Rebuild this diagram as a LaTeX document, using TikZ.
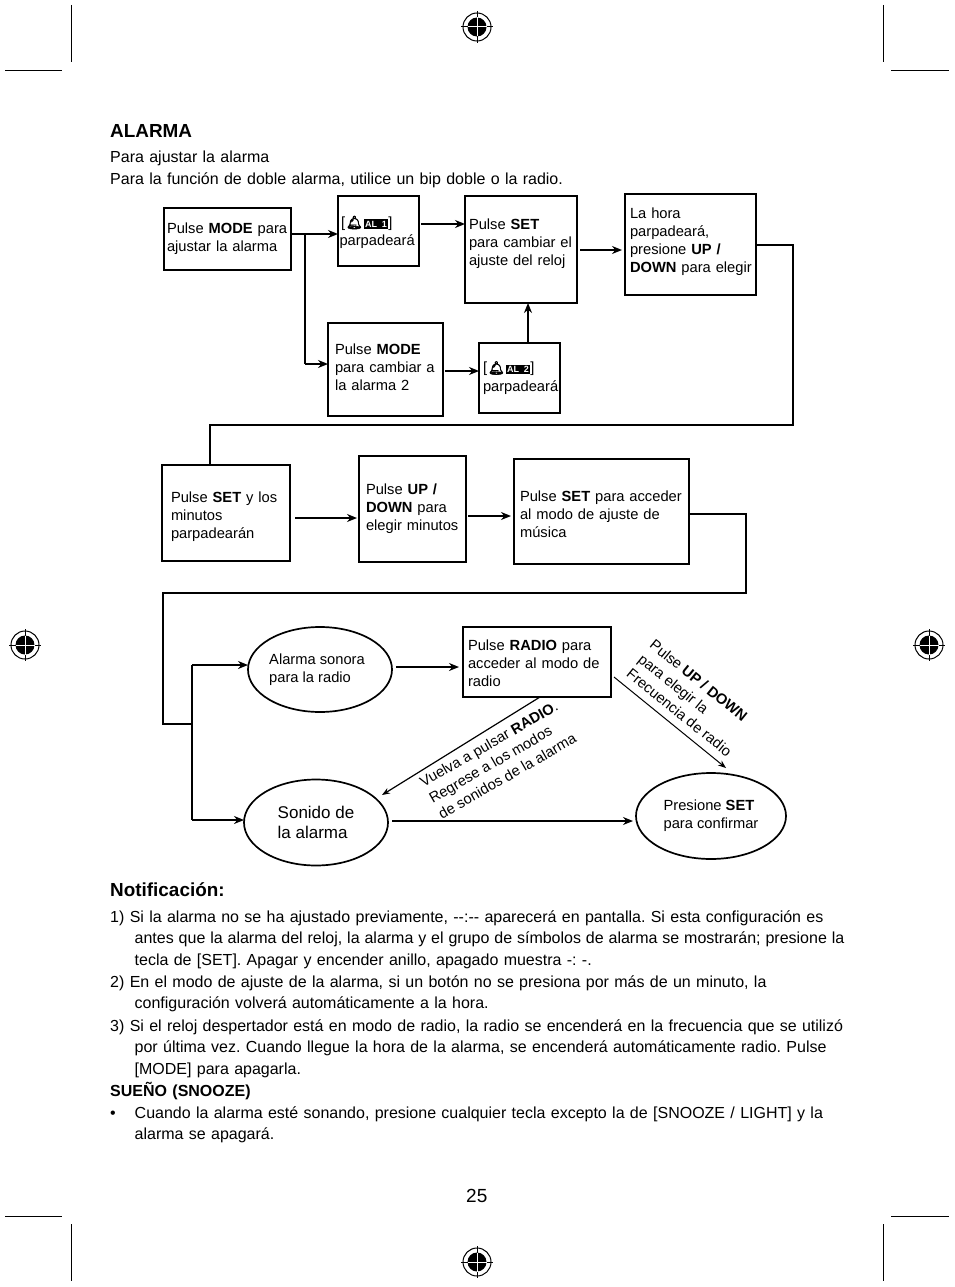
\documentclass[tikz,border=0pt]{standalone}
\usepackage{fontspec}
\setmainfont{Liberation Sans}
\newfontfamily\bellfont[FakeBold=4]{Noto Emoji}
\usetikzlibrary{arrows.meta, positioning, shapes.geometric}

\newcommand{\bodysize}{\fontsize{14.7}{18}\selectfont\hyphenpenalty=10000 }
\newcommand{\alarmicon}[1]{[\hspace{1pt}{\bellfont\fontsize{13}{13}\selectfont\symbol{"1F514}}\hspace{1pt}\setlength{\fboxsep}{1.5pt}\colorbox{black}{\textcolor{white}{\fontsize{9}{9}\selectfont\bfseries AL #1}}]}

\tikzset{
  flowbox/.style n args={4}{draw, line width=2pt, anchor=north west, outer sep=0pt, font=\bodysize, align=left,
    minimum width=#1pt, inner xsep=0pt, inner ysep=0pt, text width=#1pt, text height=#4pt, text depth=#2pt-#4pt,
    execute at begin node={\leftskip=#3pt\relax}},
  flowoval/.style n args={2}{draw, ellipse, line width=1.7pt, outer sep=0pt, inner sep=0pt, font=\bodysize, align=left,
    minimum width=#1pt, minimum height=#2pt},
  pagetext/.style={anchor=base west, inner sep=0pt, text width=780pt, align=left, font=\fontsize{16}{21.7}\selectfont},
  slanted/.style={inner sep=0pt, align=left, font=\fontsize{14.7}{18.5}\selectfont},
  link/.style={line width=2.3pt, -{Stealth[length=10pt,width=8pt]}},
  thinlink/.style={line width=1.2pt, -{Stealth[length=8pt,width=6pt]}},
  route/.style={line width=2pt},
  regmark/.pic={
    \fill[black] (0,0) circle (9.5);
    \draw[line width=1pt] (0,0) circle (14);
    \draw[line width=1pt] (-16,0) -- (16,0) (0,-16) -- (0,16);
    \draw[white, line width=1pt] (-9.5,0) -- (9.5,0) (0,-9.5) -- (0,9.5);
  }
}

\begin{document}
\frenchspacing
\begin{tikzpicture}[x=1pt, y=-1pt]
    \useasboundingbox (0,0) rectangle (954,1287);

    % page marks
    \foreach \mx/\my in {477/27, 25/645, 929/645, 477/1262}
        \pic at (\mx,\my) {regmark};
    \foreach \cx in {71, 883} {
        \draw[line width=1pt] (\cx,5) -- (\cx,62);
        \draw[line width=1pt] (\cx,1224) -- (\cx,1281);
    }
    \foreach \cy in {71, 1216} {
        \draw[line width=1pt] (5,\cy) -- (62,\cy);
        \draw[line width=1pt] (891,\cy) -- (949,\cy);
    }

    % headings
    \node[pagetext, font=\fontsize{18.9}{20}\selectfont\bfseries] (title) at (110,137) {ALARMA};
    \node[pagetext] (intro1) at (110,162) {Para ajustar la alarma};
    \node[pagetext] (intro2) at (110,184) {Para la función de doble alarma, utilice un bip doble o la radio.};

    % first row
    \node[flowbox={127}{62}{3}{25.5}] (modeA) at (164,208) {Pulse \textbf{MODE} para\\ajustar la alarma};
    \node[flowbox={81}{70}{1.5}{31}, line width=1.6pt] (al1) at (338,196) {\hspace*{1.5pt}\alarmicon{1}\\parpadeará};
    \node[flowbox={112}{107}{4}{33}] (setC) at (465,196) {Pulse \textbf{SET}\\para cambiar el\\ajuste del reloj};
    \node[flowbox={131}{101}{5}{24}, line width=1.6pt] (hourD) at (625,194) {La hora\\parpadeará,\\presione \textbf{UP /}\\\textbf{DOWN} para elegir};
    \node[flowbox={115}{93}{7}{31}] (modeE) at (328,323) {Pulse \textbf{MODE}\\para cambiar a\\la alarma 2};
    \node[flowbox={81}{70}{4}{29.5}, line width=1.6pt] (al2) at (479,343) {\alarmicon{2}\\[1pt]parpadeará};

    % second row
    \node[flowbox={128}{96}{9}{37}] (setG) at (162,465) {Pulse \textbf{SET} y los\\minutos\\parpadearán};
    \node[flowbox={107}{106}{7}{38}, line width=2.6pt] (upH) at (359,456) {Pulse \textbf{UP /}\\\textbf{DOWN} para\\elegir minutos};
    \node[flowbox={175}{105}{6}{42}] (setI) at (514,459) {Pulse \textbf{SET} para acceder\\al modo de ajuste de\\música};

    % third row
    \node[flowoval={144}{85}] (soundK) at (320,669.5) {Alarma sonora\hspace*{6pt}\\para la radio};
    \node[flowbox={148}{70}{5}{23}] (radioJ) at (463,627) {Pulse \textbf{RADIO} para\\acceder al modo de\\radio};
    \node[flowoval={144}{86}, font=\fontsize{17}{20}\selectfont] (soundL) at (316,822.5) {Sonido de\\la alarma};
    \node[flowoval={150}{86}] (setM) at (711,816) {Presione \textbf{SET}\\para confirmar};

    % junctions
    \coordinate (splitA) at (305,234);
    \coordinate (downA) at (305,364);
    \coordinate (turnD1) at (793,245);
    \coordinate (turnD2) at (793,425);
    \coordinate (turnD3) at (210,425);
    \coordinate (turnI1) at (746,514);
    \coordinate (turnI2) at (746,593);
    \coordinate (turnI3) at (163,593);
    \coordinate (turnI4) at (163,724);
    \coordinate (endI) at (191,724);
    \coordinate (busK) at (192,665);
    \coordinate (busL) at (192,820);

    % links of the top part
    \draw[link] (modeA.east |- splitA) -- (al1.west |- splitA);
    \draw[route] (splitA) -- (downA);
    \draw[link] (downA) -- (modeE.west |- downA);
    \draw[link, line width=1.8pt] ([xshift=2pt]al1.east |- 0,224) -- (setC.west |- 0,224);
    \draw[link] ([xshift=3pt]setC.east |- 0,250) -- ([xshift=-3pt]hourD.west |- 0,250);
    \draw[link, line width=1.4pt] ([xshift=2pt]modeE.east |- 0,371) -- (al2.west |- 0,371);
    \draw[link] (al2.north -| 528,0) -- (setC.south -| 528,0);
    \draw[route] (hourD.east |- turnD1) -- (turnD1) -- (turnD2) -- (turnD3) -- (setG.north -| turnD3);

    % links of the middle part
    \draw[link] ([xshift=5pt]setG.east |- 0,518) -- ([xshift=-2pt]upH.west |- 0,518);
    \draw[link] ([xshift=2pt]upH.east |- 0,516) -- ([xshift=-3pt]setI.west |- 0,516);
    \draw[route] (setI.east |- turnI1) -- (turnI1) -- (turnI2) -- (turnI3) -- (turnI4) -- (endI);

    % links of the bottom part
    \draw[route] (busK) -- (busL);
    \draw[link] (busK) -- (soundK.west |- busK);
    \draw[link] (busL) -- (soundL.west |- busL);
    \draw[link] ([xshift=4pt]soundK.east |- 0,667) -- ([xshift=-4pt]radioJ.west |- 0,667);
    \draw[thinlink] (radioJ.south -| 540,0) -- (382,795);
    \draw[thinlink, line width=1pt] (614,677) -- (726,768);
    \draw[link, line width=1.4pt] ([xshift=4pt]soundL.east |- 0,821) -- ([xshift=-3pt]setM.west |- 0,821);

    % texts along the slanted links
    \node[slanted, rotate=30] (backtext) at (498,760) {Vuelva a pulsar \textbf{RADIO}.\\Regrese a los modos\\de sonidos de la alarma};
    \node[slanted, rotate=-39] (freqtext) at (691,698) {Pulse \textbf{UP / DOWN}\\para elegir la\\Frecuencia de radio};

    % notes
    \node[pagetext, font=\fontsize{18.9}{20}\selectfont\bfseries] (notehead) at (110,896) {Notificación:};
    \node[pagetext] (note1) at (110,922) {1) Si la alarma no se ha ajustado previamente, -{}-:-{}- aparecerá en pantalla. Si esta configuración es\\\hspace*{24.5pt}{\spaceskip=4.89pt antes que la alarma del reloj, la alarma y el grupo de símbolos de alarma se mostrarán; presione la}\\\hspace*{24.5pt}tecla de [SET]. Apagar y encender anillo, apagado muestra -: -.};
    \node[pagetext] (note2) at (110,987) {2) En el modo de ajuste de la alarma, si un botón no se presiona por más de un minuto, la\\\hspace*{24.5pt}configuración volverá automáticamente a la hora.};
    \node[pagetext] (note3) at (110,1031) {3) Si el reloj despertador está en modo de radio, la radio se encenderá en la frecuencia que se utilizó\\\hspace*{24.5pt}por última vez. Cuando llegue la hora de la alarma, se encenderá automáticamente radio. Pulse\\\hspace*{24.5pt}[MODE] para apagarla.};
    \node[pagetext, font=\fontsize{16}{18}\selectfont\bfseries] (snooze) at (110,1096) {SUEÑO (SNOOZE)};
    \node[pagetext] (bullet) at (110,1118) {•};
    \node[pagetext] (note4) at (134.5,1118) {Cuando la alarma esté sonando, presione cualquier tecla excepto la de [SNOOZE / LIGHT] y la\\alarma se apagará.};
    \node[pagetext, font=\fontsize{19}{20}\selectfont] (pagenum) at (466,1202) {25};
\end{tikzpicture}
\end{document}
